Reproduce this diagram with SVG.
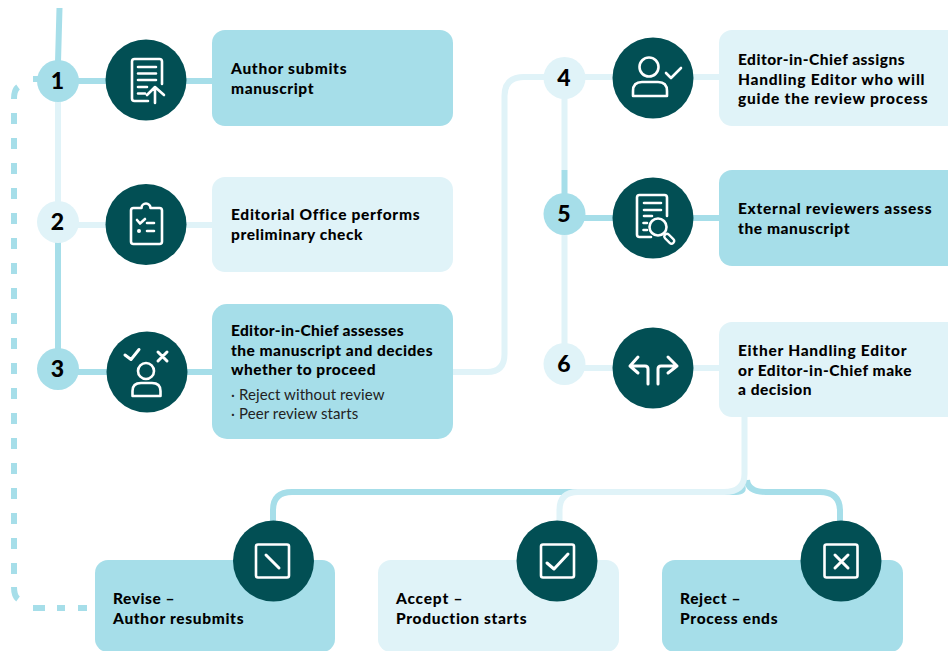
<svg xmlns="http://www.w3.org/2000/svg" width="948" height="651" viewBox="0 0 948 651">
<style>
.m{fill:#a6dee9}.l{fill:#e0f3f8}.d{fill:#024f54}
.cm{fill:none;stroke:#a6dee9;stroke-width:6}.cl{fill:none;stroke:#e0f3f8;stroke-width:6}
.i{fill:none;stroke:#fff;stroke-width:2.600;stroke-linecap:round;stroke-linejoin:round}
text{font-family:Lato,"Liberation Sans",sans-serif;fill:#000}
.t{font-size:15.500px;font-weight:900;letter-spacing:.5px}
.r{font-size:15px;font-weight:400;fill:#222;letter-spacing:.1px}
.n{font-size:23px;font-weight:900;text-anchor:middle}
</style>
<rect width="948" height="651" fill="#fff"/>
<g id="connectors">
<path class="cm" d="M59.500 8L58 62M58 81H212M58 240V350M58 372H212M564.500 170V196M564.500 218H719"/>
<path class="cl" d="M58 100V205M58 225H212M453 372H487Q504.500 372 504.500 354V96Q504.500 77 524 77H719M564.500 96V170M564.500 232V346M564.500 368H719"/>
<path class="cm" d="M742 486Q745 492 736 492H292Q273 492 273 510V525M747 480Q748 492 766 492H820Q840 492 840 511V525"/>
<path class="cl" d="M744.500 417V474Q744.500 492 724 492H578Q559.500 492 559.500 510V525"/>
<path class="cm" d="M14 113V575" stroke-dasharray="11 14"/>
<path class="cm" d="M33 79H38M18 87Q14 90 14 99M14 587Q14 596 18 599M33 608H45M57 608H65M78 608H87"/>
</g>
<g id="n1"><circle class="m" cx="58" cy="81" r="21"/><text class="n" x="57.500" y="89">1</text></g>
<g id="n2"><circle class="l" cx="58" cy="222" r="21"/><text class="n" x="57.500" y="230">2</text></g>
<g id="n3"><circle class="m" cx="58" cy="369" r="21"/><text class="n" x="57.500" y="377">3</text></g>
<g id="n4"><circle class="l" cx="564.500" cy="78" r="21"/><text class="n" x="564" y="86">4</text></g>
<g id="n5"><circle class="m" cx="564.500" cy="214" r="21"/><text class="n" x="564" y="222">5</text></g>
<g id="n6"><circle class="l" cx="564.500" cy="364" r="21"/><text class="n" x="564" y="372">6</text></g>

<g id="step1"><rect class="m" x="212" y="30" width="241" height="96" rx="13"/>
<circle class="d" cx="146" cy="80" r="40.500"/>
<path class="i" d="M148 101H134.500Q132 101 132 98.500V61.500Q132 59 134.500 59H159.500Q162 59 162 61.500V84M138 67H156M138 73.500H156M138 80H156M138 87H147M138 93.500H145M155 103V88M147 95L155 87L164 95"/>
<text class="t" x="231" y="74" textLength="116">Author submits</text><text class="t" x="231" y="94" textLength="83">manuscript</text></g>

<g id="step2"><rect class="l" x="212" y="177" width="241" height="95" rx="13"/>
<circle class="d" cx="146" cy="224.500" r="40.500"/>
<path class="i" d="M141.500 208H133.500Q131 208 131 210.500V241.500Q131 244 133.500 244H159.500Q162 244 162 241.500V210.500Q162 208 159.500 208H150.500A4.500 4.500 0 0 0 141.500 208ZM137 220L140 223.500L145 219M147 223H154M147 231H154"/>
<circle cx="139" cy="231" r="2" fill="#fff"/>
<text class="t" x="231" y="220" textLength="189">Editorial Office performs</text><text class="t" x="231" y="240" textLength="132">preliminary check</text></g>

<g id="step3"><rect class="m" x="212" y="304" width="241" height="135" rx="15"/>
<circle class="d" cx="147" cy="372" r="40.500"/>
<path class="i" style="stroke-width:3" d="M125 355L131 359.500L139 349.500M158 352L167 361M167 352L158 361"/>
<circle class="i" cx="146" cy="371" r="8"/>
<path class="i" d="M132.500 396V391Q132.500 383 141 383H152Q160.500 383 160.500 391V396Z"/>
<text class="t" x="231" y="336" textLength="173">Editor-in-Chief assesses</text><text class="t" x="231" y="356" textLength="202">the manuscript and decides</text><text class="t" x="231" y="375" textLength="145">whether to proceed</text>
<text class="r" x="231" y="400">· Reject without review</text><text class="r" x="231" y="419">· Peer review starts</text></g>

<g id="step4"><rect class="l" x="719" y="30" width="245" height="96" rx="13"/>
<circle class="d" cx="653" cy="78" r="40.500"/>
<circle class="i" cx="649" cy="67" r="9.500"/>
<path class="i" d="M633 96V91Q633 82 642 82H658Q667 82 667 91V96ZM666 73L671 78L681 68"/>
<text class="t" x="738" y="65" textLength="167">Editor-in-Chief assigns</text><text class="t" x="738" y="85" textLength="187">Handling Editor who will</text><text class="t" x="738" y="104" textLength="190">guide the review process</text></g>

<g id="step5"><rect class="m" x="719" y="170" width="245" height="96" rx="13"/>
<circle class="d" cx="653" cy="218" r="40.500"/>
<path class="i" d="M651 237H639.500Q637 237 637 234.500V197.500Q637 195 639.500 195H664.500Q667 195 667 197.500V216M644 203H661M644 210H661M644 216H652M643.500 223H647M643.500 230H647"/>
<circle class="i" cx="658" cy="227" r="8.500"/>
<path d="M667 236.500L671.500 241" fill="none" stroke="#fff" stroke-width="7.500" stroke-linecap="round"/>
<path d="M667 236.500L671.500 241" fill="none" stroke="#024f54" stroke-width="3" stroke-linecap="round"/>
<text class="t" x="738" y="214" textLength="194">External reviewers assess</text><text class="t" x="738" y="234" textLength="112">the manuscript</text></g>

<g id="step6"><rect class="l" x="719" y="322" width="245" height="95" rx="13"/>
<circle class="d" cx="653" cy="368" r="40.500"/>
<path class="i" style="stroke-width:3" d="M648 384V369Q648 366 645 366H630M638 357L630 366L638 373M658 384V369Q658 366 661 366H677M668 357L677 366L668 373"/>
<text class="t" x="738" y="356" textLength="169">Either Handling Editor</text><text class="t" x="738" y="376" textLength="174">or Editor-in-Chief make</text><text class="t" x="738" y="395" textLength="74">a decision</text></g>

<g id="revise"><rect class="m" x="95" y="560" width="240" height="92" rx="13"/>
<circle class="d" cx="273.500" cy="561" r="40.500"/>
<rect class="i" x="256" y="544.500" width="33" height="33" rx="2"/>
<path class="i" style="stroke-width:3" d="M266 555L279 568"/>
<text class="t" x="113" y="604" textLength="62">Revise –</text><text class="t" x="113" y="624" textLength="131">Author resubmits</text></g>

<g id="accept"><rect class="l" x="378" y="560" width="241" height="92" rx="13"/>
<circle class="d" cx="557" cy="561" r="40.500"/>
<rect class="i" x="541" y="544.500" width="33" height="33" rx="2"/>
<path class="i" style="stroke-width:3" d="M547 563L554 569L568 554"/>
<text class="t" x="396" y="604" textLength="67">Accept –</text><text class="t" x="396" y="624" textLength="131">Production starts</text></g>

<g id="reject"><rect class="m" x="662" y="560" width="241" height="92" rx="13"/>
<circle class="d" cx="841" cy="561" r="40.500"/>
<rect class="i" x="824.500" y="544.500" width="33" height="33" rx="2"/>
<path class="i" style="stroke-width:3" d="M835 555L848 568M848 555L835 568"/>
<text class="t" x="680" y="604" textLength="61">Reject –</text><text class="t" x="680" y="624" textLength="98">Process ends</text></g>
</svg>
